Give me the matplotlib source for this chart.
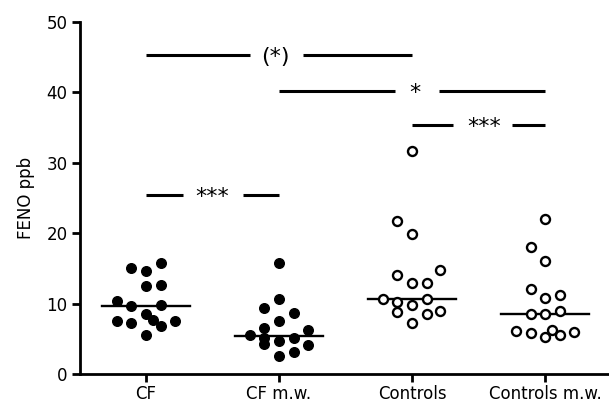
import matplotlib
matplotlib.use("Agg")
import matplotlib.pyplot as plt
import numpy as np

plt.rcParams["font.family"] = ["DejaVu Sans"]

# FENO values per group
groups = ["CF", "CF m.w.", "Controls", "Controls m.w."]
cf = [15.1, 14.6, 15.7, 12.5, 12.6, 10.3, 9.6, 9.8, 7.5, 7.3, 8.5, 7.7, 6.75, 7.5, 5.5]
cf_mw = [15.8, 10.6, 9.4, 8.7, 7.5, 6.5, 5.5, 5.05, 4.25, 4.7, 5.05, 6.2, 4.15, 3.15, 2.5]
controls = [31.6, 21.7, 19.8, 14.0, 12.9, 12.9, 14.7, 10.7, 10.2, 10.6, 9.8, 8.8, 8.5, 9.0, 7.3]
controls_mw = [22.0, 18.0, 16.1, 12.1, 10.75, 11.2, 8.5, 8.5, 8.9, 6.1, 5.75, 5.2, 6.2, 5.5, 6.0]
medians = [9.6, 5.4, 10.6, 8.5]

# column of each dot within its group (scatter layout)
cf_col = [-1, 0, 1, 0, 1, -2, -1, 1, -2, -1, 0, 0.5, 1, 2, 0]
cf_mw_col = [0, 0, -1, 1, 0, -1, -2, -1, -1, 0, 1, 2, 2, 1, 0]
controls_col = [0, -1, 0, -1, 0, 1, 1.9, -2, -1, 1, 0, -1, 1, 1.9, 0]
controls_mw_col = [0, -1, 0, -1, 0, 1, -1, 0, 1, -2, -1, 0, 0.5, 1, 2]

# significance comparisons: (left group, right group, level, label)
comparisons = [
    (0, 2, 45.3, "(*)"),
    (1, 3, 40.2, "*"),
    (2, 3, 35.4, "***"),
    (0, 1, 25.4, "***"),
]
gaps = [(0.78, 1.18), (1.87, 2.2), (2.31, 2.75), (0.28, 0.73)]
label_x = [0.97, 2.02, 2.54, 0.5]

values = [cf, cf_mw, controls, controls_mw]
cols = [cf_col, cf_mw_col, controls_col, controls_mw_col]
filled = [True, True, False, False]

fig = plt.figure(figsize=(6.09, 4.05), dpi=100)
ax = fig.add_axes([0.1314, 0.0765, 0.8686, 0.87])

step = 0.11
for i, (vals, cc, fill) in enumerate(zip(values, cols, filled)):
    x = i + np.array(cc) * step
    if fill:
        ax.scatter(x, vals, s=48, color="black", zorder=3)
    else:
        ax.scatter(x, vals, s=42, facecolor="white", edgecolor="black",
                   linewidth=1.7, zorder=3)
    ax.plot([i - 0.33, i + 0.33], [medians[i], medians[i]], color="black",
            lw=1.7, zorder=2)

for (a, b, y, lab), (g0, g1), lx in zip(comparisons, gaps, label_x):
    ax.plot([a, g0], [y, y], color="black", lw=2.2, solid_capstyle="butt")
    ax.plot([g1, b], [y, y], color="black", lw=2.2, solid_capstyle="butt")
    ax.text(lx, y, lab, ha="center", va="center_baseline", fontsize=16)

ax.set_xlim(-0.496, 3.48)
ax.set_ylim(0, 50)
ax.set_xticks(range(4))
ax.set_xticklabels(groups, fontsize=12)
ax.set_yticks([0, 10, 20, 30, 40, 50])
ax.tick_params(axis="y", labelsize=12, width=2, length=6, pad=3)
ax.tick_params(axis="x", width=2, length=6, pad=2)
ax.set_ylabel("FENO ppb", fontsize=12, labelpad=8)
for side in ["top", "right"]:
    ax.spines[side].set_visible(False)
for side in ["left", "bottom"]:
    ax.spines[side].set_linewidth(2)

fig.savefig("out.png", dpi=100)
